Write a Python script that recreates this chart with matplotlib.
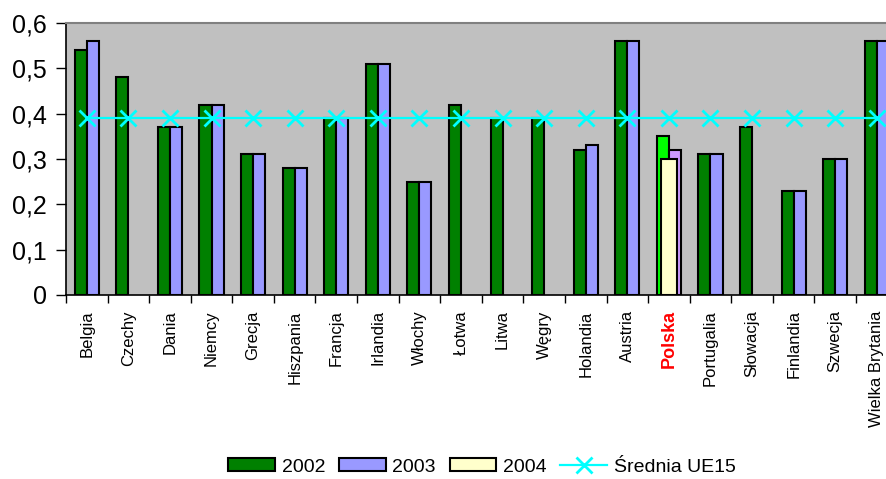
import numpy as np
import matplotlib
matplotlib.use("Agg")
import matplotlib.pyplot as plt
from matplotlib.patches import Patch
from matplotlib.lines import Line2D

plt.rcParams['font.family'] = ['Liberation Sans', 'DejaVu Sans']

countries = ["Belgia", "Czechy", "Dania", "Niemcy", "Grecja", "Hiszpania", "Francja",
             "Irlandia", "Włochy", "Łotwa", "Litwa", "Węgry", "Holandia", "Austria",
             "Polska", "Portugalia", "Słowacja", "Finlandia", "Szwecja", "Wielka Brytania"]
nan = np.nan
v2002 = [0.54, 0.48, 0.37, 0.42, 0.31, 0.28, 0.39, 0.51, 0.25, 0.42, 0.39, 0.39,
         0.32, 0.56, 0.35, 0.31, 0.37, 0.23, 0.30, 0.56]
v2003 = [0.56, nan, 0.37, 0.42, 0.31, 0.28, 0.39, 0.51, 0.25, nan, nan, nan,
         0.33, 0.56, 0.32, 0.31, nan, 0.23, 0.30, 0.56]
v2004 = [nan] * 14 + [0.30] + [nan] * 5
eu15_mean = [0.39] * len(countries)
highlight = "Polska"

fig = plt.figure(figsize=(8.87, 4.79), dpi=100)
ax = fig.add_axes([66 / 887, 1 - 295 / 479, (897.6 - 66) / 887, (295 - 23) / 479])
ax.set_facecolor("#C0C0C0")

x = np.arange(len(countries))
w = 0.29
hi = countries.index(highlight)

c02 = ["#008000"] * len(x)
c03 = ["#9999FF"] * len(x)
c02[hi] = "#00FF00"
c03[hi] = "#CC99FF"

ax.bar(x - w / 2, v2002, w, color=c02, edgecolor="black", linewidth=1.5, zorder=2)
ax.bar(x + w / 2, v2003, w, color=c03, edgecolor="black", linewidth=1.5, zorder=2)
ax.bar(x, v2004, 0.40, color="#FFFFCC", edgecolor="black", linewidth=1.5, zorder=3)
ax.plot(x, eu15_mean, color="#00FFFF", linewidth=1.6, marker="x", markersize=12,
        markeredgewidth=2, zorder=4)

ax.set_xlim(-0.5, len(countries) - 0.5)
ax.set_ylim(0, 0.6)
yt = np.arange(0, 0.61, 0.1)
ax.set_yticks(yt)
ax.set_yticklabels(["0" if abs(t) < 1e-9 else f"{t:.1f}".replace(".", ",") for t in yt],
                   fontsize=18)
ax.tick_params(axis="y", direction="out", length=7, width=1, pad=7)

ax.set_xticks(x)
ax.set_xticklabels(countries, rotation=90, fontsize=12, va="top", ha="center")
ax.set_xticks(np.arange(-0.5, len(countries)), minor=True)
ax.tick_params(axis="x", which="major", length=0, pad=11)
ax.tick_params(axis="x", which="minor", direction="out", length=6, width=1)
for lbl in ax.get_xticklabels():
    if lbl.get_text() == highlight:
        lbl.set_color("#FF0000")
        lbl.set_fontweight("bold")
        lbl.set_fontsize(13)

for side in ["left", "bottom"]:
    ax.spines[side].set_color("black")
    ax.spines[side].set_linewidth(1.2)
ax.spines["top"].set_color("#808080")
ax.spines["top"].set_linewidth(1.5)
ax.spines["right"].set_visible(False)

handles = [
    Patch(facecolor="#008000", edgecolor="black", linewidth=1.5, label="2002"),
    Patch(facecolor="#9999FF", edgecolor="black", linewidth=1.5, label="2003"),
    Patch(facecolor="#FFFFCC", edgecolor="black", linewidth=1.5, label="2004"),
    Line2D([0], [0], color="#00FFFF", linewidth=1.6, marker="x", markersize=12,
           markeredgewidth=2, label="Średnia UE15"),
]
fig.legend(handles=handles, loc="center", bbox_to_anchor=(482 / 887, 1 - 467 / 479),
           ncol=4, frameon=False, fontsize=14, handlelength=2.4, handleheight=0.62,
           handletextpad=0.35, columnspacing=0.7)

fig.savefig("out.png", dpi=100)
